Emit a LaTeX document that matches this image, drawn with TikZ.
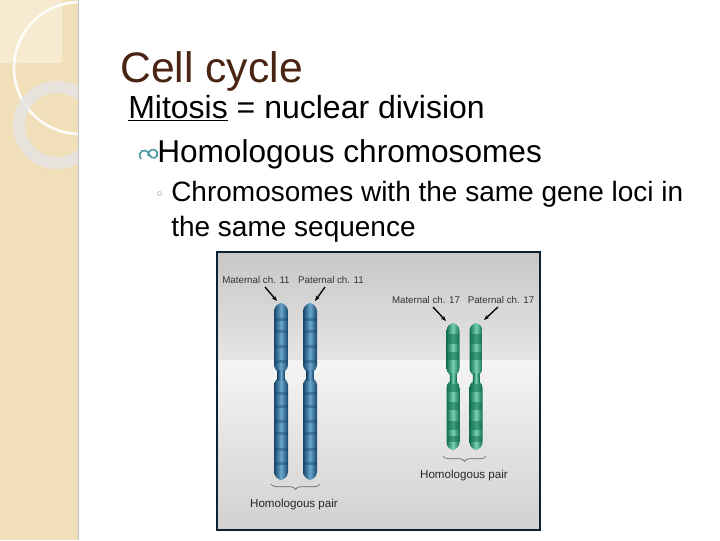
\documentclass[tikz,border=0pt]{standalone}
\usepackage{fontspec}
\setmainfont{Liberation Sans}
\newfontfamily\dejavu{DejaVu Sans}
\usetikzlibrary{decorations.pathreplacing,arrows.meta}
\definecolor{beige}{HTML}{F0DFB8}
\definecolor{beigel}{HTML}{F6EBD0}
\definecolor{titlec}{HTML}{4A2412}
\definecolor{teal}{HTML}{4A9AA0}
\definecolor{bluec}{HTML}{2C6C9A}
\definecolor{bluel}{HTML}{6AA6CC}
\definecolor{blued}{HTML}{16456A}
\definecolor{greenc}{HTML}{3AA68A}
\definecolor{greenl}{HTML}{78D0B4}
\definecolor{greend}{HTML}{127050}
\tikzset{
 lab/.style={font=\fontsize{7.3}{7.3}\selectfont, text=black!80, inner sep=1pt},
 arr/.style={-{Stealth[length=4pt]}, line width=1pt, black},
 brc/.style={decorate, decoration={brace, mirror, amplitude=4pt}, black!60, line width=0.5pt},
 pair/.style={font=\fontsize{8.7}{8.7}\selectfont, text=black!85, inner sep=1pt},
}
\newcommand{\chromo}[8]{% x, top, cent, bot, w, unused, light, dark
 \shade[left color=#8, right color=#8, middle color=#7, rounded corners=#5*0.45pt]
   (#1-#5/2,#2) rectangle (#1+#5/2,#3-2);
 \shade[left color=#8, right color=#8, middle color=#7, rounded corners=#5*0.45pt]
   (#1-#5/2,#3+2) rectangle (#1+#5/2,#4);
 \shade[left color=#8, right color=#8, middle color=#7] (#1-#5/4,#3-5) rectangle (#1+#5/4,#3+5);
}
\begin{document}
\begin{tikzpicture}[x=0.75pt,y=-0.75pt]
\useasboundingbox (0,0) rectangle (720,540);
\fill[white] (0,0) rectangle (720,540);
% left strip
\fill[beige] (0,0) rectangle (78,540);
\fill[beigel] (0,0) rectangle (62,63);
\draw[black!25, line width=1pt] (78.5,0) -- (78.5,540);
\begin{scope}
 \clip (0,0) rectangle (78,540);
 \draw[white!90!beige, line width=2pt] (80,68) circle (66);
 \draw[black!10!white, line width=9pt, opacity=0.8] (57,125) circle (38);
\end{scope}
% texts
\node[anchor=base west, inner sep=0, text=titlec, font=\fontsize{32}{32}\selectfont] (title) at (120,82) {Cell cycle};
\node[anchor=base west, inner sep=0, font=\fontsize{24}{24}\selectfont] (mit) at (128,118) {\underline{Mitosis} = nuclear division};
\node[anchor=base west, inner sep=0, font=\fontsize{23.7}{23.7}\selectfont] (hom) at (157,162) {Homologous chromosomes};
\draw[teal, line width=1.2pt] (141,159) .. controls (136,151) and (146,147) .. (149,154) .. controls (152,161) and (159,158) .. (157,152) .. controls (155,147) and (147,150) .. (148,156);
\node[anchor=base west, inner sep=0, text=black!60, font=\dejavu\fontsize{11}{11}\selectfont] (sb) at (155,199) {◦};
\node[anchor=base west, inner sep=0, font=\fontsize{21}{21}\selectfont] (chr) at (171,201) {Chromosomes with the same gene loci in};
\node[anchor=base west, inner sep=0, font=\fontsize{21}{21}\selectfont] (chr2) at (171,236) {the same sequence};
% picture
\shade[top color=black!22, bottom color=black!10] (217,252) rectangle (540,360);
\shade[top color=black!4, bottom color=black!18] (217,360) rectangle (540,530);
\draw[blued!50!black, line width=1pt] (217,252) rectangle (540,530);
% chromosomes
\chromo{281}{303}{375}{480}{14}{}{bluel}{blued}
\chromo{310}{303}{375}{480}{14}{}{bluel}{blued}
\chromo{453}{323}{378}{450}{13}{}{greenl}{greend}
\chromo{476}{323}{378}{450}{13}{}{greenl}{greend}
\foreach \cx in {281,310}{
 \foreach \yy in {318,330,345,360,392,405,420,432,448,462}{
  \fill[blued, opacity=0.4] (\cx-6.5,\yy) rectangle (\cx+6.5,\yy+3);}}
\foreach \cx in {453,476}{
 \foreach \yy/\hh in {334/10,352/8,384/8,402/8,421/9,436/6}{
  \fill[greend, opacity=0.55] (\cx-6,\yy) rectangle (\cx+6,\yy+\hh);}}
% labels
\node[lab] (m11) at (256,280) {Maternal ch. 11};
\node[lab] (p11) at (331,280) {Paternal ch. 11};
\node[lab] (m17) at (426,300) {Maternal ch. 17};
\node[lab] (p17) at (501,300) {Paternal ch. 17};
\coordinate (tm11) at (277,301); \coordinate (tp11) at (315,301);
\coordinate (tm17) at (446,321); \coordinate (tp17) at (484,320);
\draw[arr] (265,287) -- (tm11);
\draw[arr] (325,287) -- (tp11);
\draw[arr] (433,307) -- (tm17);
\draw[arr] (498,307) -- (tp17);
\coordinate (b1a) at (271,484); \coordinate (b1b) at (320,484);
\coordinate (b2a) at (443,456); \coordinate (b2b) at (486,456);
\draw[brc] (b1a) -- (b1b);
\draw[brc] (b2a) -- (b2b);
\node[pair] (hp1) at (294,504) {Homologous pair};
\node[pair] (hp2) at (464,475) {Homologous pair};
\end{tikzpicture}
\end{document}
